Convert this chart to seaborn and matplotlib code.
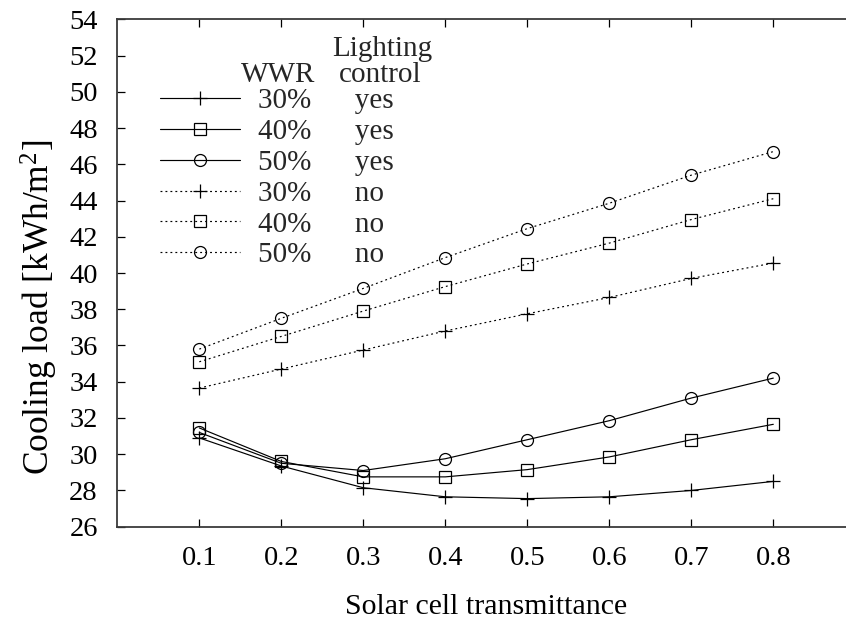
import matplotlib
matplotlib.use("Agg")
import matplotlib.pyplot as plt
import seaborn as sns
import pandas as pd
from matplotlib.lines import Line2D

# Solar cell transmittance values
transmittance = [0.1, 0.2, 0.3, 0.4, 0.5, 0.6, 0.7, 0.8]

# Cooling load [kWh/m2], with lighting control
wwr30_yes = [30.9, 29.35, 28.15, 27.65, 27.55, 27.65, 28.0, 28.5]
wwr40_yes = [31.45, 29.6, 28.75, 28.75, 29.15, 29.85, 30.8, 31.65]
wwr50_yes = [31.2, 29.5, 29.1, 29.75, 30.8, 31.85, 33.1, 34.2]

# Cooling load [kWh/m2], without lighting control
wwr30_no = [33.65, 34.7, 35.75, 36.8, 37.75, 38.65, 39.7, 40.55]
wwr40_no = [35.1, 36.5, 37.9, 39.25, 40.5, 41.65, 42.95, 44.1]
wwr50_no = [35.8, 37.5, 39.15, 40.85, 42.45, 43.85, 45.4, 46.7]

wwr_labels = ["30%", "40%", "50%", "30%", "40%", "50%"]
lighting_labels = ["yes", "yes", "yes", "no", "no", "no"]
y_ticks = list(range(26, 55, 2))
x_ticks = transmittance

series = [wwr30_yes, wwr40_yes, wwr50_yes, wwr30_no, wwr40_no, wwr50_no]
markers = ["+", "s", "o", "+", "s", "o"]
dotted = (0, (1.6, 2.6))
linestyles = ["-", "-", "-", dotted, dotted, dotted]

sns.set_theme(style="ticks")
plt.rcParams["font.family"] = ["Liberation Serif", "DejaVu Serif"]
plt.rcParams["mathtext.fontset"] = "custom"
plt.rcParams["mathtext.rm"] = "Liberation Serif"
plt.rcParams["mathtext.it"] = "Liberation Serif:italic"

fig = plt.figure(figsize=(8.46, 6.24), dpi=100)
W, H = 846, 624
ax = fig.add_axes([117.3 / W, 1 - 526.7 / H, (855.3 - 117.3) / W, (526.7 - 19.3) / H])


def style_kw(mk, ls):
    return dict(color="black", linewidth=0.85, linestyle=ls, marker=mk,
                markersize=9.4 if mk == "+" else 8.6,
                markerfacecolor="none", markeredgecolor="black",
                markeredgewidth=0.9)


handles = []
for vals, mk, ls in zip(series, markers, linestyles):
    df = pd.DataFrame({"t": transmittance, "load": vals})
    sns.lineplot(data=df, x="t", y="load", ax=ax, legend=False, **style_kw(mk, ls))
    handles.append(Line2D([0], [0], **style_kw(mk, ls)))

ax.set_xlim(0, 0.9)
ax.set_ylim(26, 54)
ax.set_xticks(x_ticks)
ax.set_xticklabels([f"{v:.1f}" for v in x_ticks])
ax.set_yticks(y_ticks)
ax.set_yticklabels([str(v) for v in y_ticks])
ax.tick_params(axis="both", direction="in", length=6, width=0.9, color="black",
               labelsize=20.5, labelcolor="black", top=True, right=True)
ax.tick_params(axis="x", pad=14)
ax.tick_params(axis="y", pad=14)
for sp in ax.spines.values():
    sp.set_color("#3a3a3a")
    sp.set_linewidth(1.3)

ax.set_xlabel("Solar cell transmittance", fontsize=21.5, color="black")
ax.xaxis.set_label_coords(0.5, -0.132)
ax.set_ylabel("Cooling load [kWh/m$^2$]", fontsize=25.5, color="black")
ax.yaxis.set_label_coords(-0.078, 0.432)

labels = [f"{w}      {lc}" for w, lc in zip(wwr_labels, lighting_labels)]
leg = fig.legend(handles, labels, loc="upper left",
                 bbox_to_anchor=(160 / W, 1 - 88 / H),
                 frameon=False, fontsize=21, handlelength=2.74, handletextpad=0.62,
                 labelspacing=0.15, borderpad=0, borderaxespad=0)

fig.text(278 / W, 1 - 75.5 / H, "WWR", fontsize=21, ha="center", va="center")
fig.text(382 / W, 1 - 49 / H, "Lighting", fontsize=21, ha="center", va="center")
fig.text(380 / W, 1 - 75.5 / H, "control", fontsize=21, ha="center", va="center")

fig.savefig("out.png", dpi=100, facecolor="white")
